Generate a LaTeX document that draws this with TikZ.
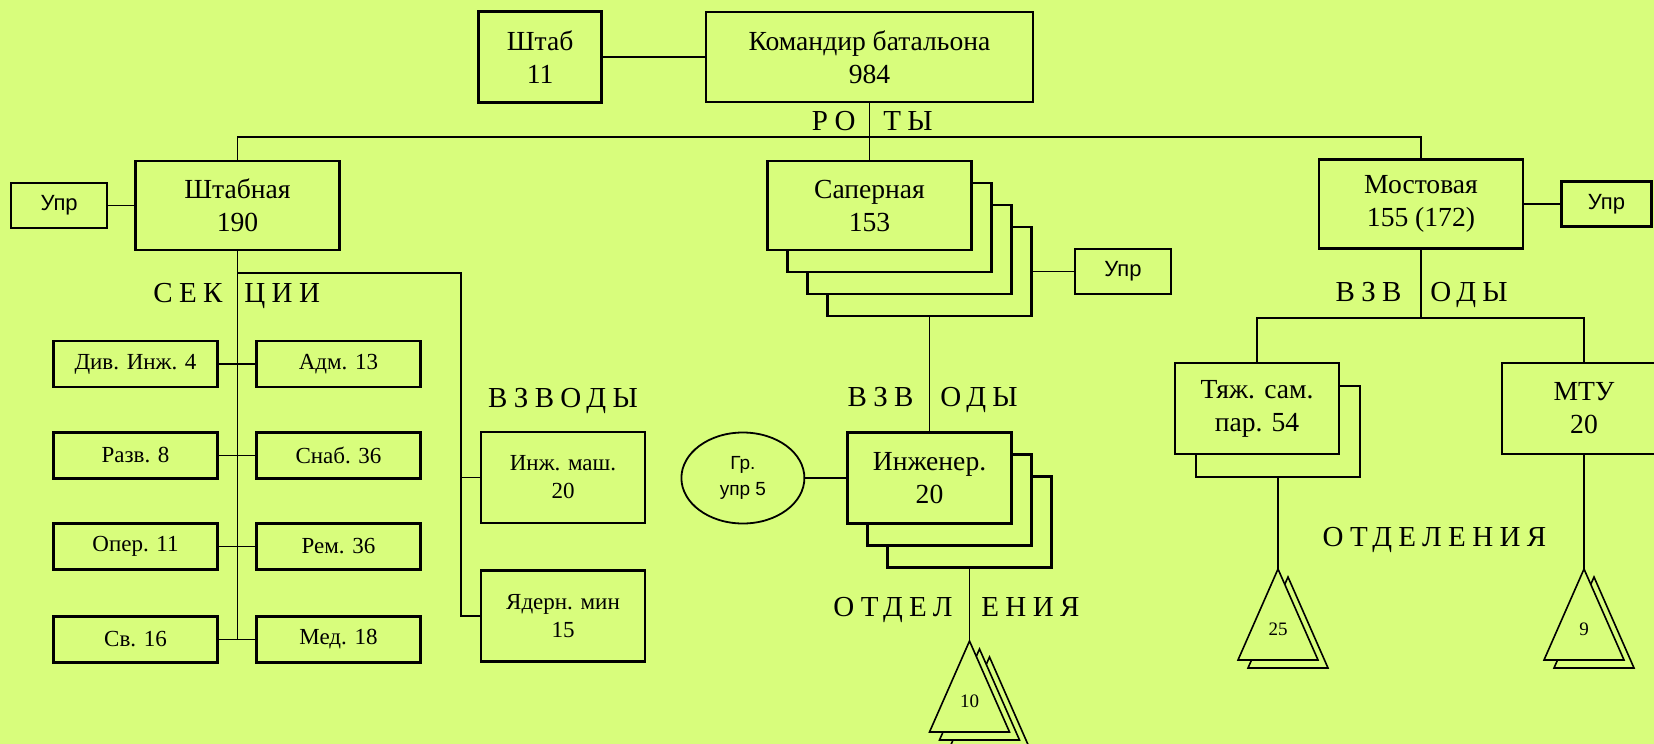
\documentclass[tikz,border=0pt]{standalone}
\usepackage{fontspec}
\setmainfont{Liberation Serif}
\newfontfamily\sansf{Liberation Sans}
\newfontfamily\spacedf[LetterSpace=22]{Liberation Serif}
\usetikzlibrary{calc,shapes.geometric,positioning}
\definecolor{bg}{RGB}{216,253,124}

\begin{document}
\begin{tikzpicture}[
    x = 0.5pt, y = -0.5pt,
    font = \fontsize{13.8}{16.5}\selectfont
  ]

  \tikzstyle {every node} = [inner sep = 0]
  \tikzstyle {box} = [draw, line width = 1.2pt, fill = bg, align = center]
  \tikzstyle {big} = [box, minimum width = 102pt, minimum height = 44.5pt]
  \tikzstyle {mid} = [box, minimum width = 82pt, minimum height = 45.5pt]
  \tikzstyle {plt} = [mid, font = \fontsize{11.5}{14}\selectfont]
  \tikzstyle {sect} = [box, minimum width = 82pt, minimum height = 23pt, font = \fontsize{11.5}{13.5}\selectfont]
  \tikzstyle {upr} = [box, minimum width = 48pt, minimum height = 22.5pt, font = \sansf\fontsize{11}{13}\selectfont]
  \tikzstyle {lbl} = [font = \spacedf\fontsize{14.5}{16}\selectfont, text height = 9.5pt, text depth = 0pt]
  \tikzstyle {tri} = [draw, line width = 0.8pt, fill = bg]
  \tikzstyle {num} = [font = \fontsize{9.5}{11}\selectfont]
  \tikzstyle {link} = [draw, line width = 0.9pt]
  \tikzstyle {thinlink} = [draw, line width = 0.7pt]

  \fill [bg] (0,0) rectangle (1654,744);
  \useasboundingbox (0,0) rectangle (1654,744);
  \clip (0,0) rectangle (1654,744);

  % battalion
  \node [box, minimum width = 163.5pt, minimum height = 45pt] (kom) at (869.5,57) {Командир батальона\\984};
  \node [box, minimum width = 61.5pt, minimum height = 45.5pt, left = 51pt of kom] (shtab) {Штаб\\11};

  % companies
  \node [big] (shtabnaya) at (237.5,205.5) {Штабная\\190};
  \node [upr, left = 13pt of shtabnaya] (uprL) {Упр};

  \coordinate (sapc) at (869.5,205.5);
  \foreach \i in {3,2,1}
    \node [big] (sap\i) at ($(sapc)+(20*\i,22*\i)$) {};
  \node [big] (sap) at (sapc) {Саперная\\153};
  \node [upr, right = 20.5pt of sap3] (uprS) {Упр};

  \node [big] (most) at (1421,204) {Мостовая\\155 (172)};
  \node [upr, minimum width = 45pt, right = 18pt of most] (uprR) {Упр};

  % sections
  \foreach \l/\r/\y [count=\n] in {Див. Инж. 4/Адм. 13/364, Разв. 8/Снаб. 36/455.5,
      Опер. 11/Рем. 36/546.5, Св. 16/Мед. 18/639.5} {
    \node [sect] (secl\n) at (135.5,\y) {\l};
    \node [sect] (secr\n) at (338.5,\y) {\r};
    \draw [link] (secl\n) -- (secr\n);
  }

  % platoons
  \node [plt] (inzh) at (563,477.5) {Инж. маш.\\20};
  \node [plt] (yad) at (563,616) {Ядерн. мин\\15};

  \coordinate (ingc) at (929.5,478);
  \foreach \i in {2,1}
    \node [mid] (ing\i) at ($(ingc)+(20*\i,22*\i)$) {};
  \node [mid] (ing) at (ingc) {Инженер.\\20};
  \node [ellipse, draw, line width = 0.9pt, fill = bg, minimum width = 61.5pt, minimum height = 45.5pt,
    align = center, font = \sansf\fontsize{9.5}{13}\selectfont, left = 20.5pt of ing] (gr) {Гр.\\упр 5};

  \coordinate (tyc) at (1257,408.5);
  \node [mid] (ty1) at ($(tyc)+(21,23)$) {};
  \node [mid] (ty) at (tyc) {Тяж. сам.\\пар. 54};
  \node [mid] (mtu) at (1584,408.5) {МТУ\\20};

  % squads
  \coordinate (t10) at (969.5,641);
  \coordinate (t25) at (1278,569);
  \coordinate (t9) at (1584,569);
  \foreach \a/\k in {t10/2, t25/1, t9/1}
    \foreach \i in {\k,...,0}
      \draw [tri] ($(\a)+(10*\i,8*\i)$) -- ++(40,91) -- ++(-80,0) -- cycle;
  \node [num] (n10) at ($(t10)+(0,60)$) {10};
  \node [num] (n25) at ($(t25)+(0,60)$) {25};
  \node [num] (n9) at ($(t9)+(0,60)$) {9};

  % labels
  \node [lbl, anchor = east] (lro) at (856,121) {РО};
  \node [lbl, anchor = west] (lty) at (883,121) {ТЫ};
  \node [lbl, anchor = east] (lsek) at (223,293) {СЕК};
  \node [lbl, anchor = west] (lcii) at (244,293) {ЦИИ};
  \node [lbl] (lvzv) at (563,398) {ВЗВОДЫ};
  \node [lbl, anchor = east] (lvzv2) at (914,397) {ВЗВ};
  \node [lbl, anchor = west] (lody2) at (940,397) {ОДЫ};
  \node [lbl, anchor = east] (lotd) at (953,607) {ОТДЕЛ};
  \node [lbl, anchor = west] (leni) at (981,607) {ЕНИЯ};
  \node [lbl, anchor = east] (lvzv3) at (1402,292) {ВЗВ};
  \node [lbl, anchor = west] (lody3) at (1430,292) {ОДЫ};
  \node [lbl] (lotd3) at (1434.5,537) {ОТДЕЛЕНИЯ};

  % connectors
  \coordinate (bus) at (869.5,137);
  \coordinate (secfork) at (237.5,273);
  \coordinate (mfork) at (1421,318);

  \draw [link] (shtab) -- (kom);
  \draw [link] (kom.south) -- (sap.north);
  \draw [link] (shtabnaya.north) |- (bus) -| (most.north);
  \draw [link] (uprL) -- (shtabnaya);
  \draw [link] (most) -- (uprR);
  \draw [link] (sap3) -- (uprS);

  \draw [link] (shtabnaya.south) -- (shtabnaya.south |- secl4.east);
  \draw [link] (secfork) -| ([xshift=-9.5pt]yad.west) -- (yad.west);
  \draw [link] (inzh.west) -- ++(-19,0);

  \draw [link] (sap3.south) -- (ing.north);
  \draw [link] (gr) -- (ing);
  \draw [thinlink] (ing2.south) -- (t10);

  \draw [link] (most.south) -- (mfork);
  \draw [link] (ty.north) |- (mfork) -| (mtu.north);
  \draw [thinlink] (ty1.south) -- (t25);
  \draw [thinlink] (mtu.south) -- (t9);
\end{tikzpicture}
\end{document}
